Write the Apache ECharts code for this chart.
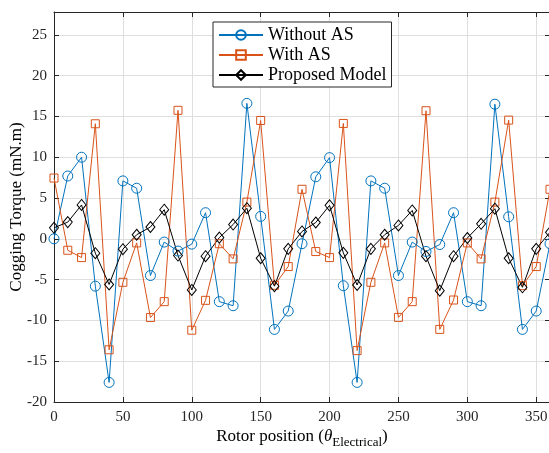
<!DOCTYPE html>
<html>
<head>
<meta charset="utf-8">
<script src="https://cdn.jsdelivr.net/npm/echarts@6/dist/echarts.min.js"></script>
<style>
  html, body { margin: 0; padding: 0; background: #fff; }
  #chart { width: 549px; height: 453px; }
</style>
</head>
<body>
<div id="chart"></div>
<script>
// Rotor position in electrical degrees
const angles = [0, 10, 20, 30, 40, 50, 60, 70, 80, 90, 100, 110, 120, 130, 140, 150, 160, 170, 180,
                190, 200, 210, 220, 230, 240, 250, 260, 270, 280, 290, 300, 310, 320, 330, 340, 350, 360];

// Cogging torque (mN.m)
const withoutAS = [0.0, 7.7, 10.0, -5.8, -17.6, 7.1, 6.2, -4.5, -0.4, -1.5, -0.65, 3.2, -7.7, -8.2, 16.6, 2.75, -11.1, -8.85, -0.6,
                   7.6, 9.95, -5.75, -17.6, 7.1, 6.2, -4.5, -0.4, -1.55, -0.7, 3.2, -7.7, -8.2, 16.5, 2.7, -11.1, -8.85, -0.6];
const withAS = [7.45, -1.4, -2.3, 14.1, -13.6, -5.33, -0.5, -9.65, -7.7, 15.75, -11.2, -7.54, -0.6, -2.46, 4.5, 14.5, -5.7, -3.4, 6.07,
                -1.56, -2.3, 14.14, -13.7, -5.33, -0.5, -9.63, -7.7, 15.7, -11.1, -7.5, -0.5, -2.46, 4.5, 14.55, -5.74, -3.4, 6.07];
const proposed = [1.35, 2.05, 4.15, -1.76, -5.6, -1.27, 0.5, 1.45, 3.57, -2.05, -6.27, -2.13, 0.15, 1.75, 3.75, -2.38, -5.8, -1.23, 0.9,
                  2.0, 4.1, -1.72, -5.66, -1.23, 0.5, 1.64, 3.48, -2.13, -6.35, -2.13, 0.1, 1.84, 3.69, -2.38, -5.94, -1.23, 0.8];

const seriesNames = ['Without AS', 'With AS', 'Proposed Model'];
const seriesColors = ['#0072BD', '#D95319', '#000000'];

const X_MIN = 0, X_MAX = 360, X_STEP = 50;
const Y_MIN = -20, Y_MAX = 27.8, Y_STEP = 5;

const FONT = 'Liberation Serif, Times New Roman, serif';
const AXIS_COLOR = '#262626';
const GRID_COLOR = '#dfdfdf';

const pairs = arr => angles.map((a, i) => [a, arr[i]]);

function lineSeries(name, values, color, symbol, size) {
  return {
    name: name,
    type: 'line',
    data: pairs(values),
    symbol: symbol,
    symbolSize: size,
    showAllSymbol: true,
    lineStyle: { color: color, width: 1 },
    itemStyle: { color: 'rgba(255,255,255,0)', borderColor: color, borderWidth: 1 },
    emphasis: { disabled: true },
    animation: false
  };
}

const baseX = {
  type: 'value', min: X_MIN, max: X_MAX, interval: X_STEP
};
const baseY = {
  type: 'value', min: Y_MIN, max: Y_MAX, interval: Y_STEP
};

const chart = echarts.init(document.getElementById('chart'), null, { renderer: 'canvas' });

chart.setOption({
  animation: false,
  backgroundColor: '#ffffff',
  grid: { left: 54, right: -1, top: 12, bottom: 51, containLabel: false, outerBoundsMode: 'none' },
  legend: {
    data: seriesNames,
    left: 213,
    top: 22,
    orient: 'vertical',
    itemWidth: 44,
    itemHeight: 12,
    itemGap: 0,
    padding: [3, 5, 2, 5],
    backgroundColor: '#ffffff',
    borderColor: AXIS_COLOR,
    borderWidth: 1,
    borderRadius: 0,
    textStyle: { fontFamily: FONT, fontSize: 18, color: '#000', lineHeight: 20 },
    selectedMode: false
  },
  xAxis: [
    Object.assign({}, baseX, {
      position: 'bottom',
      name: '{t|Rotor position (}{i|θ}{s|Electrical}{t|)}',
      nameLocation: 'middle',
      nameGap: 26,
      nameMoveOverlap: false,
      nameTextStyle: {
        rich: {
          t: { fontFamily: FONT, fontSize: 17, color: '#000', verticalAlign: 'top', lineHeight: 20 },
          i: { fontFamily: FONT, fontSize: 17, fontStyle: 'italic', color: '#000', verticalAlign: 'top', lineHeight: 20 },
          s: { fontFamily: FONT, fontSize: 13, color: '#000', verticalAlign: 'top', lineHeight: 14, padding: [8, 0, 0, 0] }
        }
      },
      axisLine: { show: true, onZero: false, lineStyle: { color: AXIS_COLOR, width: 1 } },
      axisTick: { show: true, inside: true, length: 5, lineStyle: { color: AXIS_COLOR } },
      axisLabel: { show: true, margin: 8, fontFamily: FONT, fontSize: 15, color: AXIS_COLOR, showMaxLabel: false },
      splitLine: { show: true, lineStyle: { color: GRID_COLOR, width: 1 } }
    }),
    Object.assign({}, baseX, {
      position: 'top',
      axisLine: { show: true, onZero: false, lineStyle: { color: AXIS_COLOR, width: 1 } },
      axisTick: { show: true, inside: true, length: 5, lineStyle: { color: AXIS_COLOR } },
      axisLabel: { show: false },
      splitLine: { show: false }
    })
  ],
  yAxis: [
    Object.assign({}, baseY, {
      position: 'left',
      name: 'Cogging Torque (mN.m)',
      nameLocation: 'middle',
      nameRotate: 90,
      nameGap: 29,
      nameMoveOverlap: false,
      nameTextStyle: { fontFamily: FONT, fontSize: 17, color: '#000' },
      axisLine: { show: true, onZero: false, lineStyle: { color: AXIS_COLOR, width: 1 } },
      axisTick: { show: true, inside: true, length: 5, lineStyle: { color: AXIS_COLOR } },
      axisLabel: { show: true, margin: 7, fontFamily: FONT, fontSize: 15, color: AXIS_COLOR, showMaxLabel: false },
      splitLine: { show: true, lineStyle: { color: GRID_COLOR, width: 1 } }
    }),
    Object.assign({}, baseY, {
      position: 'right',
      axisLine: { show: true, onZero: false, lineStyle: { color: AXIS_COLOR, width: 1 } },
      axisTick: { show: true, inside: true, length: 5, lineStyle: { color: AXIS_COLOR } },
      axisLabel: { show: false },
      splitLine: { show: false }
    })
  ],
  series: [
    lineSeries(seriesNames[0], withoutAS, seriesColors[0], 'circle', 10),
    lineSeries(seriesNames[1], withAS, seriesColors[1], 'rect', 8),
    lineSeries(seriesNames[2], proposed, seriesColors[2], 'diamond', [9, 11])
  ]
});
</script>
</body>
</html>
